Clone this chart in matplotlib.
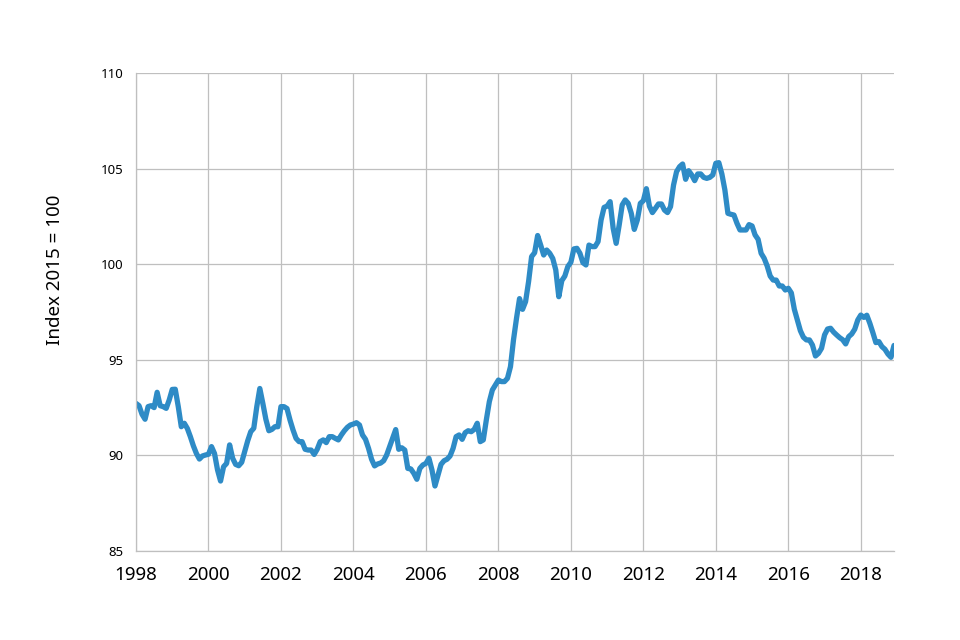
import numpy as np
from matplotlib import pyplot as plt

# monthly index values, Jan 1998 .. Dec 2018
index_values = [
    92.72, 92.6, 92.15, 91.89, 92.55, 92.6, 92.5, 93.3, 92.6, 92.55, 92.46, 92.9,
    93.45, 93.46, 92.55, 91.5, 91.68, 91.41, 90.98, 90.5, 90.1, 89.81, 89.97, 90.02,
    90.06, 90.46, 90.1, 89.24, 88.66, 89.41, 89.58, 90.55, 89.85, 89.53, 89.46, 89.64,
    90.2, 90.77, 91.24, 91.42, 92.55, 93.5, 92.72, 91.89, 91.29, 91.36, 91.5, 91.5,
    92.55, 92.55, 92.45, 91.85, 91.33, 90.89, 90.72, 90.72, 90.32, 90.28, 90.28, 90.05,
    90.32, 90.72, 90.81, 90.67, 90.98, 90.98, 90.89, 90.81, 91.07, 91.29, 91.47, 91.59,
    91.64, 91.71, 91.59, 91.07, 90.84, 90.37, 89.8, 89.45, 89.55, 89.6, 89.72, 90.02,
    90.46, 90.89, 91.35, 90.32, 90.4, 90.28, 89.32, 89.29, 89.06, 88.75, 89.32, 89.5,
    89.58, 89.85, 89.24, 88.4, 88.97, 89.53, 89.72, 89.8, 89.97, 90.37, 90.98, 91.07,
    90.84, 91.19, 91.29, 91.24, 91.36, 91.68, 90.72, 90.81, 91.85, 92.81, 93.42, 93.68,
    93.94, 93.86, 93.86, 94.03, 94.64, 96.04, 97.17, 98.2, 97.64, 98.04, 99.09, 100.4,
    100.6, 101.5, 101.0, 100.48, 100.74, 100.57, 100.3, 99.7, 98.3, 99.14, 99.38, 99.88,
    100.1, 100.8, 100.83, 100.57, 100.08, 99.96, 101.0, 100.92, 100.92, 101.18, 102.31, 102.97,
    103.04, 103.27, 101.88, 101.09, 102.05, 103.1, 103.36, 103.18, 102.66, 101.82, 102.31, 103.18,
    103.32, 103.95, 103.04, 102.7, 102.92, 103.15, 103.15, 102.83, 102.7, 103.01, 104.14, 104.84,
    105.1, 105.24, 104.44, 104.89, 104.67, 104.37, 104.72, 104.72, 104.54, 104.49, 104.54, 104.67,
    105.28, 105.31, 104.72, 103.88, 102.66, 102.61, 102.57, 102.14, 101.79, 101.79, 101.79, 102.07,
    102.0, 101.53, 101.3, 100.57, 100.31, 99.91, 99.38, 99.17, 99.17, 98.86, 98.86, 98.65,
    98.74, 98.5, 97.64, 97.08, 96.52, 96.18, 96.04, 96.04, 95.77, 95.2, 95.34, 95.6,
    96.3, 96.61, 96.65, 96.45, 96.3, 96.16, 96.05, 95.83, 96.21, 96.35, 96.6, 97.08,
    97.34, 97.22, 97.33, 96.91, 96.42, 95.9, 95.95, 95.69, 95.55, 95.3, 95.13, 95.75,
]
start_year = 1998
year_ticks = list(range(1998, 2019, 2))
value_ticks = [85, 90, 95, 100, 105, 110]

months = np.arange(len(index_values))
x = start_year + months / 12

plt.rcParams['font.family'] = ['Noto Sans', 'DejaVu Sans']

fig = plt.figure(figsize=(9.6, 6.4), dpi=100)
ax = fig.add_axes([136 / 960, 1 - 551 / 640, (894 - 136) / 960, (551 - 73) / 640])

ax.plot(x, index_values, '-', color='#2e8bc6', linewidth=3.8, solid_capstyle='round')

ax.set_xlim(start_year, x[-1])
ax.set_ylim(85, 110)
ax.set_xticks(year_ticks)
ax.set_yticks(value_ticks)
ax.tick_params(axis='x', length=0, pad=11, labelsize=13.5, colors='black')
ax.tick_params(axis='y', length=0, pad=9, labelsize=9.5, colors='black')

ax.grid(True, color='#bfbfbf', linewidth=0.9)
ax.set_axisbelow(True)
for side in ['top', 'right']:
    ax.spines[side].set_visible(False)
for side in ['left', 'bottom']:
    ax.spines[side].set_color('#bfbfbf')
    ax.spines[side].set_linewidth(0.9)

fig.text(55 / 960, 1 - 270 / 640, "Index 2015 = 100", rotation=90,
         ha='center', va='center', fontsize=13.5)

fig.savefig('out.png', dpi=100)
